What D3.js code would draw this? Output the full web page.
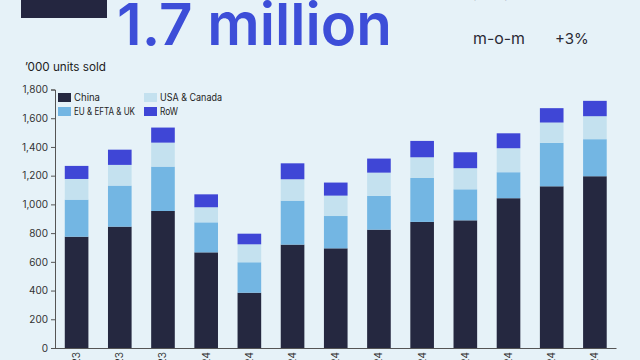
<!DOCTYPE html>
<html>
<head>
<meta charset="utf-8">
<script src="https://cdn.jsdelivr.net/npm/d3@7"></script>
<style>
  html, body { margin: 0; padding: 0; background: #e6f2f8; }
  svg { display: block; font-family: Inter, "Noto Sans", sans-serif; }
</style>
</head>
<body>
<svg id="chart" width="640" height="360"></svg>
<script>
const months = ["Oct 23","Nov 23","Dec 23","Jan 24","Feb 24","Mar 24","Apr 24","May 24","Jun 24","Jul 24","Aug 24","Sep 24","Oct 24"];
const china = [775, 845, 954, 666, 385, 720, 694, 824, 878, 889, 1043, 1126, 1196];
const euEftaUk = [258, 286, 309, 209, 212, 306, 225, 235, 306, 216, 181, 302, 258];
const usaCanada = [144, 144, 167, 105, 125, 149, 142, 162, 144, 147, 167, 142, 160];
const row = [91, 106, 105, 90, 74, 111, 91, 98, 114, 111, 104, 100, 107];
const seriesNames = ["China", "EU & EFTA & UK", "USA & Canada", "RoW"];
const yTicks = [0, 200, 400, 600, 800, 1000, 1200, 1400, 1600, 1800];

const colors = ["#252840", "#73b6e3", "#c4e1ef", "#3f46d6"];
const keys = ["china", "eu", "usa", "row"];
const table = months.map((m, i) => ({ month: m, china: china[i], eu: euEftaUk[i], usa: usaCanada[i], row: row[i] }));

const svg = d3.select("#chart");
svg.append("rect").attr("width", 640).attr("height", 360).attr("fill", "#e6f2f8");

// top-left dark block
svg.append("rect").attr("x", 21).attr("y", 0).attr("width", 86).attr("height", 18).attr("fill", "#242640");

// headline
svg.append("text").attr("x", 117).attr("y", 45)
  .attr("font-size", 58).attr("font-weight", 600).attr("fill", "#3d4ed8")
  .attr("textLength", 275).attr("lengthAdjust", "spacingAndGlyphs")
  .text("1.7 million");

// top-right stats
svg.append("text").attr("x", 473).attr("y", -3).attr("font-size", 15).attr("fill", "#2a2a35").text("y-o-y");
svg.append("text").attr("x", 473).attr("y", 44).attr("font-size", 15).attr("fill", "#2a2a35")
  .attr("textLength", 52).attr("lengthAdjust", "spacingAndGlyphs").text("m-o-m");
svg.append("text").attr("x", 555).attr("y", 44).attr("font-size", 15).attr("fill", "#2a2a35").text("+3%");

svg.append("text").attr("x", 25).attr("y", 71).attr("font-size", 11.5).attr("fill", "#222")
  .attr("textLength", 81).attr("lengthAdjust", "spacingAndGlyphs").text("\u2019000 units sold");

const x = d3.scaleBand().domain(months).range([55, 616.5]).paddingInner(0.453).paddingOuter(0.2265);
const y = d3.scaleLinear().domain([0, 1800]).range([348, 89.5]);

const stack = d3.stack().keys(keys)(table);

svg.append("g").selectAll("g").data(stack).join("g")
  .attr("fill", (d, i) => colors[i])
  .selectAll("rect").data(d => d).join("rect")
  .attr("x", d => x(d.data.month))
  .attr("width", x.bandwidth())
  .attr("y", d => y(d[1]))
  .attr("height", d => y(d[0]) - y(d[1]));

// y axis
const yAxis = svg.append("g").attr("transform", "translate(55,0)")
  .call(d3.axisLeft(y).tickValues(yTicks).tickFormat(d3.format(",")).tickSize(4).tickPadding(3));
yAxis.select(".domain").attr("stroke", "#555");
yAxis.selectAll(".tick line").attr("stroke", "#555");
yAxis.selectAll("text").attr("font-size", 10).attr("fill", "#333").attr("font-family", "Inter, sans-serif");

// x axis
const xAxis = svg.append("g").attr("transform", "translate(0,348)")
  .call(d3.axisBottom(x).tickSize(0).tickPadding(4));
xAxis.select(".domain").attr("stroke", "#555").attr("d", "M55,0.5H616.5");
xAxis.selectAll("text")
  .attr("font-size", 10).attr("fill", "#333").attr("font-family", "Inter, sans-serif")
  .attr("transform", "rotate(-90)")
  .attr("text-anchor", "end").attr("dy", "0.35em").attr("x", -4).attr("y", 0);

// legend
const legendPos = [[58, 93], [58, 107], [144, 93], [144, 107]];
const legendWidths = [26, 61, 62, 18];
const lg = svg.append("g");
seriesNames.forEach((name, i) => {
  const [lx, ly] = legendPos[i];
  lg.append("rect").attr("x", lx).attr("y", ly).attr("width", 13).attr("height", 9).attr("fill", colors[i]);
  lg.append("text").attr("x", lx + 16).attr("y", ly + 8).attr("font-size", 10).attr("fill", "#222")
    .attr("textLength", legendWidths[i]).attr("lengthAdjust", "spacingAndGlyphs").text(name);
});
</script>
</body>
</html>
